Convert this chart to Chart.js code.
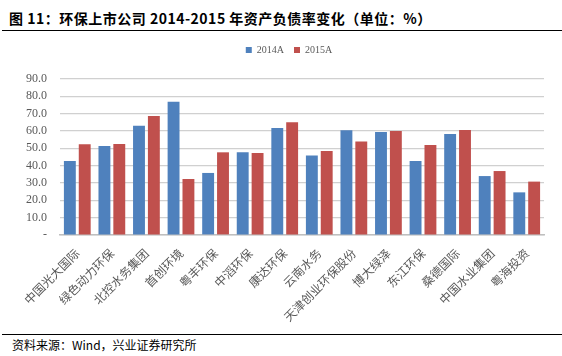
<!DOCTYPE html>
<html>
<head>
<meta charset="utf-8">
<script src="https://cdn.jsdelivr.net/npm/chart.js@4/dist/chart.umd.min.js"></script>
<style>
  html, body { margin: 0; padding: 0; background: #fff; }
  body { width: 562px; height: 356px; position: relative; overflow: hidden; }
  #title { position: absolute; left: 9px; top: 8px; font: bold 14px "Noto Sans CJK SC", sans-serif; color: #000; white-space: nowrap; letter-spacing: 0.5px; }
  #tline { position: absolute; left: 2px; right: 0; top: 30px; height: 0; border-top: 1.5px solid #000; }
  #bline { position: absolute; left: 2px; right: 0; top: 334px; height: 0; border-top: 1.5px solid #000; }
  #source { position: absolute; left: 12px; top: 336px; font: 12px "Noto Sans CJK SC", sans-serif; color: #000; white-space: nowrap; }
  #wrap { position: absolute; left: 0; top: 35px; width: 562px; height: 290px; }
</style>
</head>
<body>
<div id="title">图 11：环保上市公司 2014-2015 年资产负债率变化（单位：%）</div>
<div id="tline"></div>
<div id="wrap"><canvas id="c"></canvas></div>
<div id="bline"></div>
<div id="source">资料来源：Wind，兴业证券研究所</div>
<script>
const categories = ["中国光大国际", "绿色动力环保", "北控水务集团", "首创环境", "粤丰环保", "中滔环保", "康达环保", "云南水务", "天津创业环保股份", "博大绿泽", "东江环保", "桑德国际", "中国水业集团", "粤海投资"];
const series2014 = [42.7, 51.3, 63.1, 76.9, 35.8, 47.7, 61.7, 45.8, 60.4, 59.4, 42.7, 58.3, 34.0, 24.6];
const series2015 = [52.3, 52.5, 68.7, 32.3, 47.7, 47.3, 65.0, 48.5, 54.0, 60.0, 51.9, 60.6, 36.9, 30.8];
const seriesNames = ["2014A", "2015A"];
const yTicks = [0, 10, 20, 30, 40, 50, 60, 70, 80, 90];

const legendTweak = {
  id: 'legendTweak',
  beforeInit(chart) {
    const orig = chart.legend.fit;
    chart.legend.fit = function () {
      orig.bind(chart.legend)();
      this.height = 44;
    };
  },
  afterLayout(chart) {
    const lg = chart.legend;
    const shift = 17;
    lg.left += shift; lg.right += shift;
    if (lg.legendHitBoxes) lg.legendHitBoxes.forEach(b => { b.left += shift; });
  }
};

new Chart(document.getElementById('c'), {
  type: 'bar',
  data: {
    labels: categories,
    datasets: [
      { label: seriesNames[0], data: series2014, backgroundColor: '#4F81BD', borderWidth: 0 },
      { label: seriesNames[1], data: series2015, backgroundColor: '#C0504D', borderWidth: 0 }
    ]
  },
  plugins: [legendTweak],
  options: {
    responsive: true,
    maintainAspectRatio: false,
    animation: false,
    datasets: { bar: { categoryPercentage: 0.86, barPercentage: 0.8 } },
    layout: { padding: { left: 0, right: 18, top: 0, bottom: 0 } },
    plugins: {
      legend: {
        position: 'top',
        labels: {
          boxWidth: 6, boxHeight: 6, padding: 10,
          color: '#595959',
          font: { family: '"Liberation Serif", serif', size: 10 }
        }
      },
      tooltip: { enabled: false },
      title: { display: false }
    },
    scales: {
      x: {
        afterFit(scale) { scale.height = 90; },
        grid: { display: false, drawTicks: false },
        border: { display: true, color: '#BFBFBF', width: 1.5 },
        ticks: {
          minRotation: 45, maxRotation: 45, autoSkip: false, padding: 11,
          color: '#595959',
          font: { family: '"Noto Sans CJK SC", sans-serif', size: 12 }
        }
      },
      y: {
        min: 0, max: 90,
        afterFit(scale) { scale.width = 60; },
        afterBuildTicks(scale) { scale.ticks = yTicks.map(v => ({ value: v })); },
        grid: { color: '#D0D0D0', lineWidth: 1.2, drawTicks: false },
        border: { display: false },
        ticks: {
          autoSkip: false,
          padding: 13,
          color: '#595959',
          font: { family: '"Liberation Serif", serif', size: 12 },
          callback: v => v === 0 ? '-' : v.toFixed(1)
        }
      }
    }
  }
});
</script>
</body>
</html>
